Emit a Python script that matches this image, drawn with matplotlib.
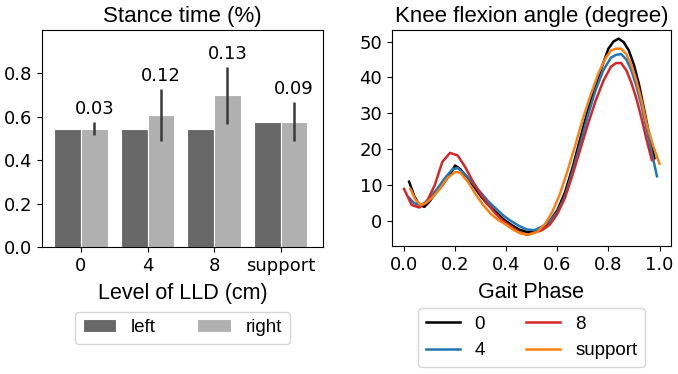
import numpy as np
import matplotlib
matplotlib.use("Agg")
import matplotlib.pyplot as plt

# stance time per leg
levels = ["0", "4", "8", "support"]
stance_left = [0.546, 0.546, 0.546, 0.578]
stance_right = [0.546, 0.607, 0.699, 0.578]
stance_err = [0.03, 0.12, 0.13, 0.09]

# knee flexion curves (gait phase, angle)
phase_0 = [0.02, 0.04, 0.06, 0.08, 0.10, 0.12, 0.15, 0.18, 0.20, 0.22, 0.25, 0.28, 0.30,
           0.33, 0.36, 0.39, 0.42, 0.45, 0.48, 0.51, 0.54, 0.57, 0.60, 0.63, 0.66, 0.69,
           0.72, 0.75, 0.78, 0.80, 0.82, 0.84, 0.86, 0.88, 0.90, 0.92, 0.94, 0.96, 0.98]
knee_0 = [11.0, 7.0, 4.5, 4.0, 5.5, 7.5, 10.0, 13.0, 15.5, 14.5, 12.0, 9.0, 7.0,
          4.5, 2.5, 0.5, -1.0, -2.3, -3.0, -3.0, -2.0, 0.0, 3.0, 8.0, 15.0, 23.0,
          31.0, 38.0, 44.0, 48.0, 50.0, 50.8, 49.8, 47.5, 43.5, 38.0, 31.0, 24.0, 17.5]

phase_4 = [0.02, 0.04, 0.06, 0.08, 0.10, 0.13, 0.16, 0.19, 0.21, 0.24, 0.27, 0.30, 0.33,
           0.36, 0.39, 0.42, 0.45, 0.48, 0.51, 0.54, 0.57, 0.60, 0.63, 0.66, 0.69, 0.72,
           0.75, 0.78, 0.81, 0.83, 0.85, 0.87, 0.89, 0.91, 0.93, 0.95, 0.97, 0.99]
knee_4 = [6.5, 5.0, 4.5, 5.0, 6.5, 9.0, 12.0, 14.5, 14.8, 13.0, 10.5, 8.0, 5.5,
          3.5, 1.5, 0.0, -1.3, -2.3, -2.5, -1.5, 0.0, 2.5, 7.0, 14.0, 21.5, 29.5,
          36.5, 42.0, 45.5, 46.3, 46.5, 45.0, 42.0, 37.5, 32.0, 25.5, 19.0, 12.5]

phase_8 = [0.00, 0.03, 0.06, 0.09, 0.12, 0.15, 0.18, 0.21, 0.24, 0.27, 0.30, 0.33, 0.36,
           0.39, 0.42, 0.45, 0.48, 0.51, 0.54, 0.57, 0.60, 0.63, 0.66, 0.69, 0.72, 0.75,
           0.78, 0.81, 0.83, 0.85, 0.87, 0.89, 0.91, 0.93, 0.95, 0.97]
knee_8 = [9.0, 4.5, 3.8, 5.5, 10.0, 16.5, 19.0, 18.3, 15.0, 11.0, 7.5, 4.5, 2.0,
          0.0, -1.5, -3.0, -3.8, -3.2, -2.5, -1.0, 2.0, 6.5, 13.0, 20.0, 27.0, 33.5,
          39.0, 43.0, 44.0, 44.0, 42.0, 38.5, 34.0, 28.5, 22.5, 17.0]

phase_s = [0.025, 0.045, 0.065, 0.085, 0.11, 0.14, 0.17, 0.20, 0.22, 0.25, 0.28, 0.31,
           0.34, 0.37, 0.40, 0.43, 0.46, 0.49, 0.52, 0.55, 0.58, 0.61, 0.64, 0.67, 0.70,
           0.73, 0.76, 0.79, 0.81, 0.83, 0.85, 0.87, 0.89, 0.91, 0.93, 0.95, 0.975, 1.0]
knee_s = [9.0, 6.0, 4.5, 5.0, 6.5, 9.0, 12.0, 13.7, 13.5, 11.0, 7.5, 4.5,
          2.0, 0.3, -1.0, -2.5, -3.5, -3.7, -3.0, -1.0, 2.5, 7.5, 14.0, 21.0, 28.5,
          35.0, 41.0, 45.5, 47.5, 48.0, 48.0, 46.5, 43.5, 39.0, 33.5, 27.0, 21.0, 16.0]

phase_ticks = [0.0, 0.2, 0.4, 0.6, 0.8, 1.0]

ARIAL = "Liberation Sans"
TICK_SIZE = 13
LEGEND_SIZE = 13.5


def stance_plot(ax):
    x = np.arange(len(levels))
    w = 0.4
    ax.bar(x - w/2, stance_left, w, color="#686868", edgecolor="white", linewidth=0.8, label="left")
    ax.bar(x + w/2, stance_right, w, color="#b0b0b0", edgecolor="white", linewidth=0.8, label="right")
    ax.errorbar(x + w/2, stance_right, yerr=stance_err, fmt="none", ecolor="#3a3a3a", elinewidth=1.8)
    for xi, yi, e in zip(x, stance_right, stance_err):
        ax.text(xi + w/2, yi + e + 0.018, f"{e:.2f}", ha="center", va="bottom", fontsize=TICK_SIZE)

    ax.set_xlim(-0.585, 3.635)
    ax.set_ylim(0, 1.0)
    ax.set_yticks([0.0, 0.2, 0.4, 0.6, 0.8])
    ax.set_xticks(x)
    ax.set_xticklabels(levels)
    ax.tick_params(labelsize=TICK_SIZE)
    ax.set_title("Stance time (%)", fontsize=16, family=ARIAL)
    ax.set_xlabel("Level of LLD (cm)", fontsize=15.5, family=ARIAL, labelpad=6)
    ax.legend(loc="upper center", bbox_to_anchor=(0.5, -0.255), ncol=2,
              prop={"family": ARIAL, "size": LEGEND_SIZE}, handlelength=1.8, columnspacing=2.2)


def knee_plot(ax):
    ax.plot(phase_0, knee_0, color="black", lw=1.8, label="0")
    ax.plot(phase_4, knee_4, color="tab:blue", lw=1.8, label="4")
    ax.plot(phase_8, knee_8, color="tab:red", lw=1.8, label="8")
    ax.plot(phase_s, knee_s, color="tab:orange", lw=1.8, label="support")

    ax.set_xlim(-0.047, 1.045)
    ax.set_ylim(-6.9, 53.2)
    ax.set_xticks(phase_ticks)
    ax.set_yticks([0, 10, 20, 30, 40, 50])
    ax.tick_params(labelsize=TICK_SIZE)
    ax.set_title("Knee flexion angle (degree)", fontsize=16, family=ARIAL)
    ax.set_xlabel("Gait Phase", fontsize=15.5, family=ARIAL, labelpad=6)
    ax.legend(loc="upper center", bbox_to_anchor=(0.5, -0.2435), ncol=2,
              prop={"family": ARIAL, "size": LEGEND_SIZE}, handlelength=1.8, columnspacing=2.2)


def main():
    fig = plt.figure(figsize=(6.78, 3.74), dpi=100)
    ax1 = fig.add_axes([42/678, 127/374, 281/678, 217/374])
    ax2 = fig.add_axes([392/678, 128/374, 279/678, 216/374])
    stance_plot(ax1)
    knee_plot(ax2)
    fig.savefig("out.png", dpi=100)
    return 0


if __name__ == "__main__":
    main()
